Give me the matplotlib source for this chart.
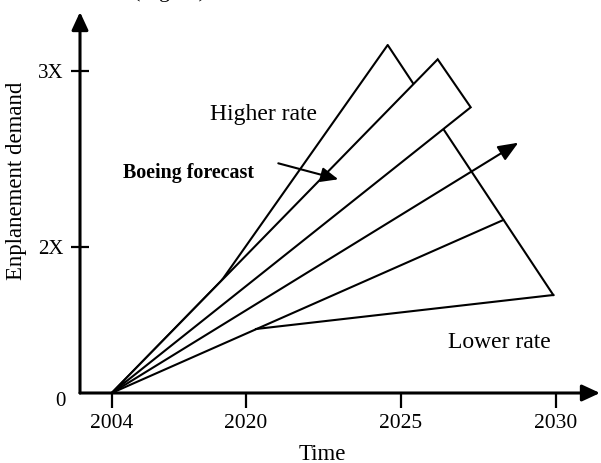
"""Schematic of enplanement demand scenarios fanning out from 2004"""
import matplotlib
matplotlib.use('Agg')
import matplotlib.pyplot as plt
from matplotlib.patches import Polygon

plt.rcParams['font.family'] = ['Liberation Serif', 'DejaVu Serif']

# schematic axis positions (the drawing is not to scale)
year_labels = ['2004', '2020', '2025', '2030']
year_pos = [31.7, 165.7, 321, 476]
demand_labels = ['2X', '3X']
demand_pos = [146.3, 322]

# every scenario starts at 2004, demand 1X
start = (31.7, 0)

# higher-rate envelope: branch point, peak, lower right corner
higher_x = [142, 307.7, 473.3]
higher_y = [113, 348, 98]

# lower-rate edge: kink on the slowest line, then the lower right corner
lower_x = [176, 473.3]
lower_y = [64, 98]

# slow scenario line ending on the envelope
slow_end = (423.3, 173)

# band around the forecast (upper corner, right corner)
band_x = [357.7, 390.7]
band_y = [333.7, 285.7]

# middle forecast arrow tip
forecast_tip = (438.3, 250.3)

# pointer from the "Boeing forecast" label
pointer_from = (198.3, 229.7)
pointer_to = (258.3, 213.7)

fig = plt.figure(figsize=(6.01, 4.63), dpi=100)
ax = fig.add_axes([0, 0, 1, 1])
ax.set_xlim(-80, 521)
ax.set_ylim(-70, 393)

for side in ['top', 'right', 'left', 'bottom']:
    ax.spines[side].set_visible(False)
ax.spines['left'].set_position(('data', 0))
ax.spines['bottom'].set_position(('data', 0))

lw = 1.5
k = 'black'


def arrow(head_length, head_width, width):
    style = '-|>,head_length=%g,head_width=%g' % (head_length, head_width)
    return dict(arrowstyle=style, color=k, lw=width, shrinkA=0, shrinkB=0,
                mutation_scale=1)


# axes with arrow heads
ax.annotate('', xy=(0, 381), xytext=(0, 0), arrowprops=arrow(10.8, 5, 2.2),
            annotation_clip=False)
ax.annotate('', xy=(520, 0), xytext=(0, 0), arrowprops=arrow(10.8, 5, 2.2),
            annotation_clip=False)

ax.set_xticks(year_pos)
ax.set_xticklabels(year_labels)
ax.set_yticks(demand_pos)
ax.set_yticklabels(demand_labels)
ax.tick_params(axis='x', direction='out', length=10.8, width=1.6,
               labelsize=15.5, pad=4)
ax.tick_params(axis='y', direction='inout', length=13, width=1.6,
               labelsize=15, pad=5)
ax.text(-20, -9, '0', fontsize=15, ha='center', va='center')

# higher rate envelope and lower rate edge
ax.plot([start[0], higher_x[0]], [start[1], higher_y[0]], color=k, lw=lw, zorder=2)
ax.plot(higher_x, higher_y, color=k, lw=lw, zorder=2)
ax.plot(lower_x, lower_y, color=k, lw=lw, zorder=2)
ax.plot([start[0], slow_end[0]], [start[1], slow_end[1]], color=k, lw=lw, zorder=2)

# forecast band, white filled so it hides the envelope behind it
band = Polygon([start, (band_x[0], band_y[0]), (band_x[1], band_y[1])],
               closed=True, facecolor='white', edgecolor=k, lw=lw,
               joinstyle='miter', zorder=3)
ax.add_patch(band)

# middle forecast arrow
ax.annotate('', xy=forecast_tip, xytext=start,
            arrowprops=arrow(12.2, 5, lw), zorder=4)

# label pointer
ax.annotate('', xy=pointer_to, xytext=pointer_from,
            arrowprops=arrow(10.5, 4.5, lw), zorder=4)

ax.text(130, 273, 'Higher rate', fontsize=17, ha='left', va='baseline')
ax.text(368.3, 45.3, 'Lower rate', fontsize=17, ha='left', va='baseline')
ax.text(43.3, 214.7, 'Boeing forecast', fontsize=14.4, fontweight='bold',
        ha='left', va='baseline')

ax.text(242.5, -66.5, 'Time', fontsize=16.5, ha='center', va='baseline')
ax.text(-63, 212, 'Enplanement demand', fontsize=16.4, rotation=90,
        ha='center', va='center')

# caption cut off at the top of the picture
ax.text(53, 396, '(Figure)', fontsize=16, ha='left', va='baseline',
        clip_on=False)

fig.savefig('out.png', dpi=100)
